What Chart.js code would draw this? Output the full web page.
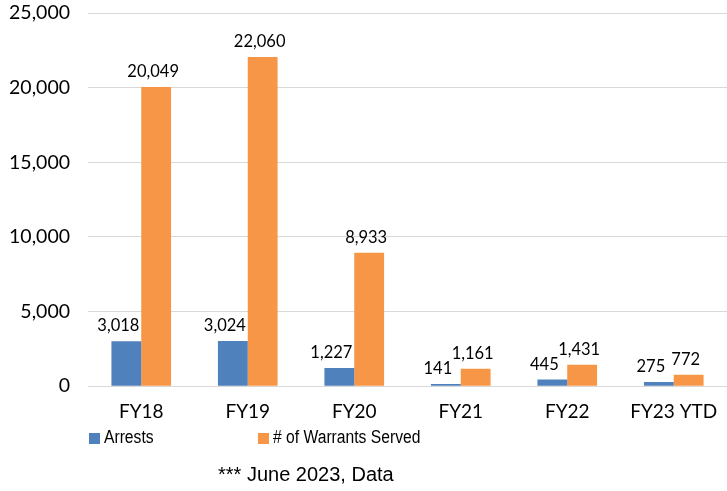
<!DOCTYPE html>
<html>
<head>
<meta charset="utf-8">
<script src="https://cdn.jsdelivr.net/npm/chart.js@4.4.0/dist/chart.umd.min.js"></script>
<style>
    html, body { margin: 0; padding: 0; background: #fff; }
    #wrap { position: relative; width: 727px; height: 491px; }
    #chart { display: block; }
    #legend { position: absolute; top: 427px; left: 0; width: 727px; font: 18px "Liberation Sans", Arial, sans-serif; color: #000; }
    #legend span.item { position: absolute; white-space: nowrap; }
    #legend span.box { display: inline-block; width: 11px; height: 11px; margin-right: 4px; vertical-align: -1px; }
    #legend span.txt { display: inline-block; transform: scaleX(0.87); transform-origin: left center; }
    #note { position: absolute; top: 463px; left: 218px; font: 20px "Liberation Sans", Arial, sans-serif; color: #000; }
</style>
</head>
<body>
<div id="wrap">
    <canvas id="chart" width="727" height="491"></canvas>
    <div id="legend">
        <span class="item" style="left:89px"><span class="box" style="background:#4F81BD"></span><span class="txt">Arrests</span></span>
        <span class="item" style="left:258px"><span class="box" style="background:#F79646"></span><span class="txt"># of Warrants Served</span></span>
    </div>
    <div id="note">*** June 2023, Data</div>
</div>
<script>
document.addEventListener('DOMContentLoaded', function () {
    const years = ['FY18', 'FY19', 'FY20', 'FY21', 'FY22', 'FY23 YTD'];
    const arrests = [3018, 3024, 1227, 141, 445, 275];
    const warrantsServed = [20049, 22060, 8933, 1161, 1431, 772];
    const yTicks = [0, 5000, 10000, 15000, 20000, 25000];

    const fmt = v => v.toLocaleString('en-US');

    // Value labels drawn just above each bar, nudged left like the report
    const barLabels = {
        id: 'barLabels',
        afterDatasetsDraw(chart) {
            const ctx = chart.ctx;
            ctx.save();
            ctx.font = '16.5px Lato, sans-serif';
            ctx.fillStyle = '#000';
            ctx.textAlign = 'center';
            ctx.textBaseline = 'bottom';
            chart.data.datasets.forEach((ds, di) => {
                const shift = di === 0 ? -8 : -3;
                chart.getDatasetMeta(di).data.forEach((bar, i) => {
                    ctx.fillText(fmt(ds.data[i]), bar.x + shift, bar.y - 7);
                });
            });
            ctx.restore();
        }
    };

    new Chart(document.getElementById('chart').getContext('2d'), {
        type: 'bar',
        data: {
            labels: years,
            datasets: [{
                label: 'Arrests',
                data: arrests,
                backgroundColor: '#4F81BD'
            }, {
                label: '# of Warrants Served',
                data: warrantsServed,
                backgroundColor: '#F79646'
            }]
        },
        options: {
            responsive: false,
            animation: false,
            layout: { padding: { top: 13, right: 0, bottom: 62, left: 0 } },
            datasets: {
                bar: { categoryPercentage: 0.56, barPercentage: 1.0 }
            },
            scales: {
                x: {
                    grid: { display: false },
                    border: { color: '#d9d9d9' },
                    ticks: {
                        color: '#000',
                        padding: 6,
                        font: { family: 'Lato, sans-serif', size: 19 }
                    }
                },
                y: {
                    min: 0,
                    max: 25000,
                    afterFit(scale) {
                        scale.width = 88;
                        scale.paddingTop = 0;
                        scale.paddingBottom = 0;
                    },
                    afterBuildTicks(scale) { scale.ticks = yTicks.map(v => ({ value: v })); },
                    grid: { color: '#d9d9d9', drawTicks: false },
                    border: { display: false },
                    ticks: {
                        color: '#000',
                        padding: 18,
                        font: { family: 'Lato, sans-serif', size: 19.5 },
                        callback: v => fmt(v)
                    }
                }
            },
            plugins: {
                legend: { display: false },
                tooltip: { enabled: false }
            }
        },
        plugins: [barLabels]
    });
});
</script>
</body>
</html>
